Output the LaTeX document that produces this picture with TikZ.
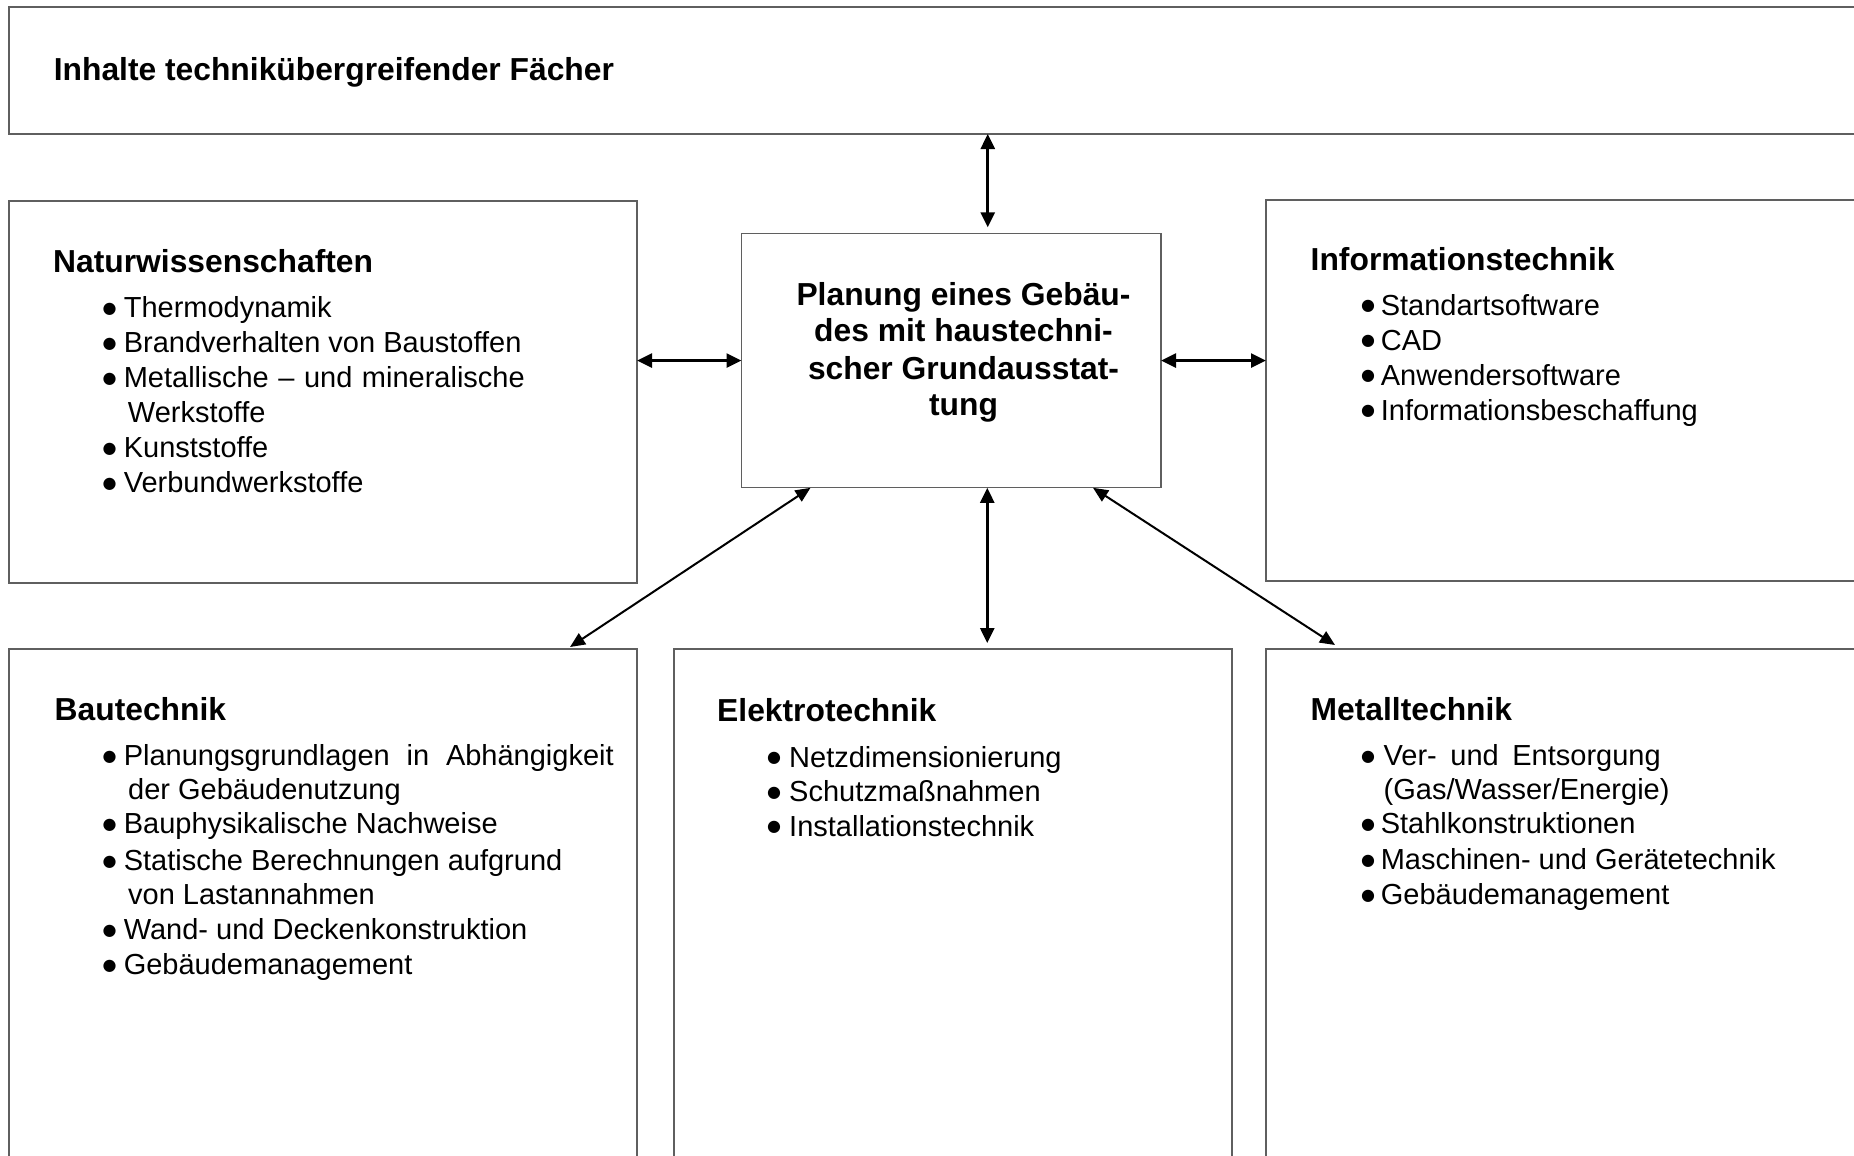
\documentclass[tikz,border=0pt]{standalone}
\usepackage{fontspec}
\setmainfont{Liberation Sans}
\newfontfamily\dotfont{DejaVu Sans}
\usetikzlibrary{arrows.meta}
\definecolor{boxgray}{RGB}{95,95,95}
% bullet item: round dot in a fixed-width slot, then the text
\newcommand{\itm}[2][22.1bp]{\makebox[#1][l]{\hspace{0.5bp}\raisebox{4.2bp}{\dotfont\fontsize{16bp}{16bp}\selectfont ●}}#2}
\tikzset{
  box/.style={draw=boxgray, line width=1.3bp, inner sep=0pt, outer sep=0pt, anchor=north west},
  hd/.style={font=\fontsize{31.8bp}{38bp}\selectfont\bfseries, inner sep=0pt, anchor=base west},
  it/.style={font=\fontsize{29bp}{35bp}\selectfont, inner sep=0pt, anchor=base west},
  ct/.style={font=\fontsize{31.8bp}{38bp}\selectfont\bfseries, inner sep=0pt, anchor=base},
  link/.style={line width=2.6bp, {Triangle[length=15bp,width=14bp]}-{Triangle[length=15bp,width=14bp]}},
  slant/.style={line width=2bp, {Triangle[length=15bp,width=13bp]}-{Triangle[length=15bp,width=13bp]}}
}
\begin{document}
\begin{tikzpicture}[x=1bp,y=-1bp]
\useasboundingbox (0,0) rectangle (1854,1155);
\clip (0,0) rectangle (1854,1155);

% frames
\node[box, minimum width=1861bp, minimum height=127bp] (top) at (9,7) {};
\node[box, minimum width=628bp, minimum height=382bp] (nat) at (9,201) {};
\node[box, minimum width=419.5bp, minimum height=254.5bp] (cen) at (741.5,233.3) {};
\node[box, minimum width=610bp, minimum height=381bp] (info) at (1266,200) {};
\node[box, minimum width=628bp, minimum height=520bp] (bau) at (9,649) {};
\node[box, minimum width=558bp, minimum height=520bp] (elek) at (674,649) {};
\node[box, minimum width=610bp, minimum height=520bp] (met) at (1266,649) {};

% title row
\node[hd] (topH) at (53.6,80) {Inhalte technikübergreifender Fächer};

% centre
\node[ct] (cen1) at (963.5,305) {Planung eines Gebäu-};
\node[ct] (cen2) at (963.5,341.7) {des mit haustechni-};
\node[ct] (cen3) at (963.5,379) {scher Grundausstat-};
\node[ct] (cen4) at (963.5,415) {tung};

% Naturwissenschaften
\node[hd] (natH) at (53,272.7) {Naturwissenschaften};
\node[it] (nat1) at (102,317.3) {\itm[21.6bp]{Thermodynamik}};
\node[it] (nat2) at (102,352.4) {\itm[21.6bp]{Brandverhalten von Baustoffen}};
\node[it] (nat3) at (102,387.5) {\itm[21.6bp]{\makebox[401bp][s]{Metallische – und mineralische}}};
\node[it] (nat3b) at (127.7,422.6) {Werkstoffe};
\node[it] (nat4) at (102,457.7) {\itm[21.6bp]{Kunststoffe}};
\node[it] (nat5) at (102,492.8) {\itm[21.6bp]{Verbundwerkstoffe}};

% Informationstechnik
\node[hd] (infoH) at (1310.5,270) {Informationstechnik};
\node[it] (info1) at (1360.5,315) {\itm[20.1bp]{Standartsoftware}};
\node[it] (info2) at (1360.5,350) {\itm[20.1bp]{CAD}};
\node[it] (info3) at (1360.5,385) {\itm[20.1bp]{Anwendersoftware}};
\node[it] (info4) at (1360.5,420) {\itm[20.1bp]{Informationsbeschaffung}};

% Bautechnik
\node[hd] (bauH) at (54.5,720.4) {Bautechnik};
\node[it] (bau1) at (102,765.7) {\itm[21.6bp]{\makebox[490bp][s]{Planungsgrundlagen in Abhängigkeit}}};
\node[it] (bau1b) at (128,799) {der Gebäudenutzung};
\node[it] (bau2) at (102,833.6) {\itm[21.6bp]{Bauphysikalische Nachweise}};
\node[it] (bau3) at (102,870.8) {\itm[21.6bp]{Statische Berechnungen aufgrund}};
\node[it] (bau3b) at (128,904.4) {von Lastannahmen};
\node[it] (bau4) at (102,939.8) {\itm[21.6bp]{Wand- und Deckenkonstruktion}};
\node[it] (bau5) at (102,974.2) {\itm[21.6bp]{Gebäudemanagement}};

% Elektrotechnik
\node[hd] (elekH) at (717,721) {Elektrotechnik};
\node[it] (elek1) at (766.5,767) {\itm[22.5bp]{Netzdimensionierung}};
\node[it] (elek2) at (766.5,801.5) {\itm[22.5bp]{Schutzmaßnahmen}};
\node[it] (elek3) at (766.5,836) {\itm[22.5bp]{Installationstechnik}};

% Metalltechnik
\node[hd] (metH) at (1310.5,720.4) {Metalltechnik};
\node[it] (met1) at (1360.5,765.7) {\itm[23bp]{\makebox[277bp][s]{Ver- und Entsorgung}}};
\node[it] (met1b) at (1383.5,799) {(Gas/Wasser/Energie)};
\node[it] (met2) at (1360.5,833.6) {\itm[20.1bp]{Stahlkonstruktionen}};
\node[it] (met3) at (1360.5,869.7) {\itm[20.1bp]{Maschinen- und Gerätetechnik}};
\node[it] (met4) at (1360.5,904.4) {\itm[20.1bp]{Gebäudemanagement}};

% connectors
\coordinate (vt) at ([xshift=36.5bp]cen.north);
\coordinate (vb) at ([xshift=36bp]cen.south);
\draw[link, shorten >=6bp] (vt |- top.south) -- (vt);
\draw[link] (cen.west -| nat.east) -- (cen.west);
\draw[link] (cen.east) -- (cen.east -| info.west);
\draw[link, shorten >=6bp] (vb) -- (vb |- elek.north);
\draw[slant] ([xshift=69bp]cen.south west) -- ([xshift=-67bp,yshift=2bp]bau.north east);
\draw[slant] ([xshift=-68bp]cen.south east) -- ([xshift=69bp,yshift=4bp]met.north west);
\end{tikzpicture}
\end{document}
